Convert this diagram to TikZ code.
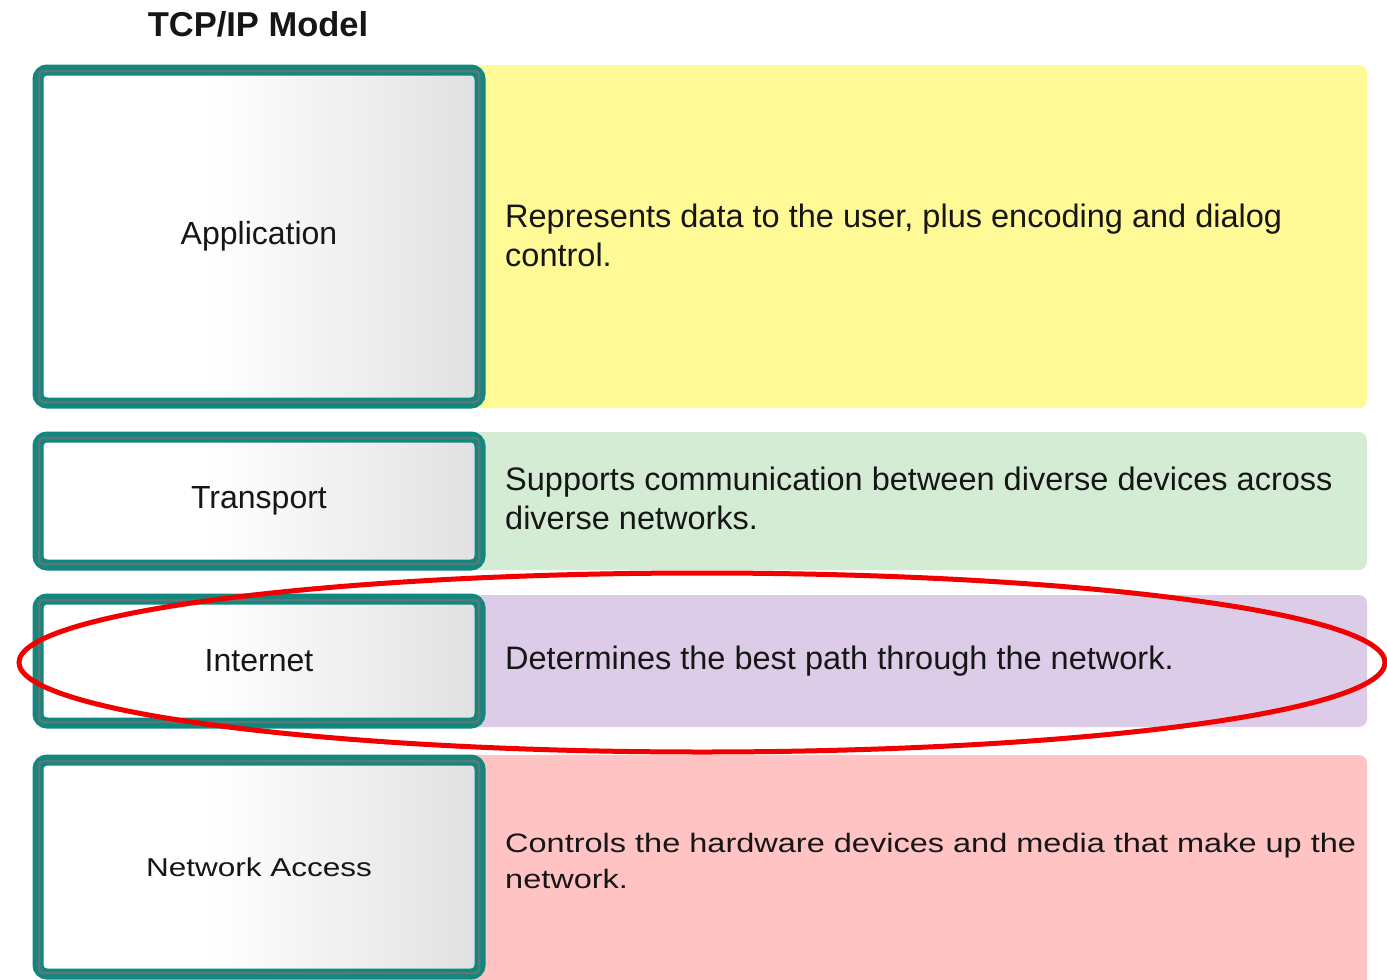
\documentclass[tikz,border=0pt]{standalone}
\usepackage{fontspec}
\setmainfont{Liberation Sans}
\usetikzlibrary{calc,shapes.geometric}

\definecolor{layerteal}{HTML}{12877F}
\definecolor{layershade}{HTML}{5A7876}
\definecolor{appyellow}{HTML}{FFF996}
\definecolor{transgreen}{HTML}{D5ECD4}
\definecolor{netpurple}{HTML}{DDCCE8}
\definecolor{accesspink}{HTML}{FFC3C3}
\definecolor{ringred}{HTML}{F20000}
\definecolor{inktext}{HTML}{161616}

% white face that greys off gently towards the right edge
\pgfdeclarehorizontalshading{layerfade}{100bp}{color(0bp)=(white); color(25bp)=(white);
  color(44bp)=(white); color(68bp)=(black!9); color(75bp)=(black!12); color(100bp)=(black!12)}

\newcommand{\desctext}[1]{\fontsize{32.5}{39}\selectfont\begin{tabular}[t]{@{}l@{}}#1\end{tabular}}

\begin{document}
\begin{tikzpicture}[x=1pt,y=-1pt,
  layerbox/.style={draw=layerteal, line width=11pt, rounded corners=9pt,
    shading=layerfade,
    minimum width=442pt, inner sep=0pt, text=inktext,
    font=\fontsize{32}{38}\selectfont},
  innerrim/.style={draw=layershade, line width=2.5pt, rounded corners=4pt},
  descpanel/.style={rounded corners=8pt},
  desc/.style={anchor=base west, inner sep=0pt, text=inktext},
  ring/.style={draw=ringred, line width=5pt}]

\useasboundingbox (0,0) rectangle (1387,980);
\clip (0,0) rectangle (1387,980);
\fill[white] (0,0) rectangle (1387,980);

% title
\node[inner sep=0pt, text=inktext, font=\fontsize{34.5}{40}\bfseries] (title) at (258,24) {TCP/IP Model};

% coloured description panels
\fill[descpanel, appyellow]  (470,65)  rectangle (1367,408);
\fill[descpanel, transgreen] (470,432) rectangle (1367,570);
\fill[descpanel, netpurple]  (470,595) rectangle (1367,727);
\fill[descpanel, accesspink] (470,755) rectangle (1367,1000);

% layer boxes
\node[layerbox, minimum height=333pt] (app) at (259,236.5) {Application};
\node[layerbox, minimum height=128pt] (trans) at (259,501) {Transport};
\node[layerbox, minimum height=124pt] (inet) at (259,661) {Internet};
\node[layerbox, minimum height=214pt] (access) at (259,867)
  {\scalebox{1}[0.82]{\fontsize{31.5}{37}\selectfont Network Access}};

% darker inner rim of each layer box
\foreach \b in {app,trans,inet,access}{
  \draw[innerrim] ($(\b.north west)+(6.5,6.5)$) rectangle ($(\b.south east)+(-6.5,-6.5)$);
}

% layer descriptions
\node[desc] (appdesc) at (505,227) {\desctext{Represents data to the user, plus encoding and dialog\\ control.}};
\node[desc] (transdesc) at (505,490) {\desctext{Supports communication between diverse devices across\\ diverse networks.}};
\node[desc] (inetdesc) at (505,669) {\desctext{Determines the best path through the network.}};
\node[desc] (accessdesc) at (505,852) {\scalebox{1}[0.82]{\fontsize{32.5}{44}\selectfont\begin{tabular}[t]{@{}l@{}}Controls the hardware devices and media that make up the\\ network.\end{tabular}}};

% highlight ring around the Internet layer
\node[ring, ellipse, minimum width=1366pt, minimum height=179pt, inner sep=0pt] (highlight) at (702,662.5) {};

\end{tikzpicture}
\end{document}
